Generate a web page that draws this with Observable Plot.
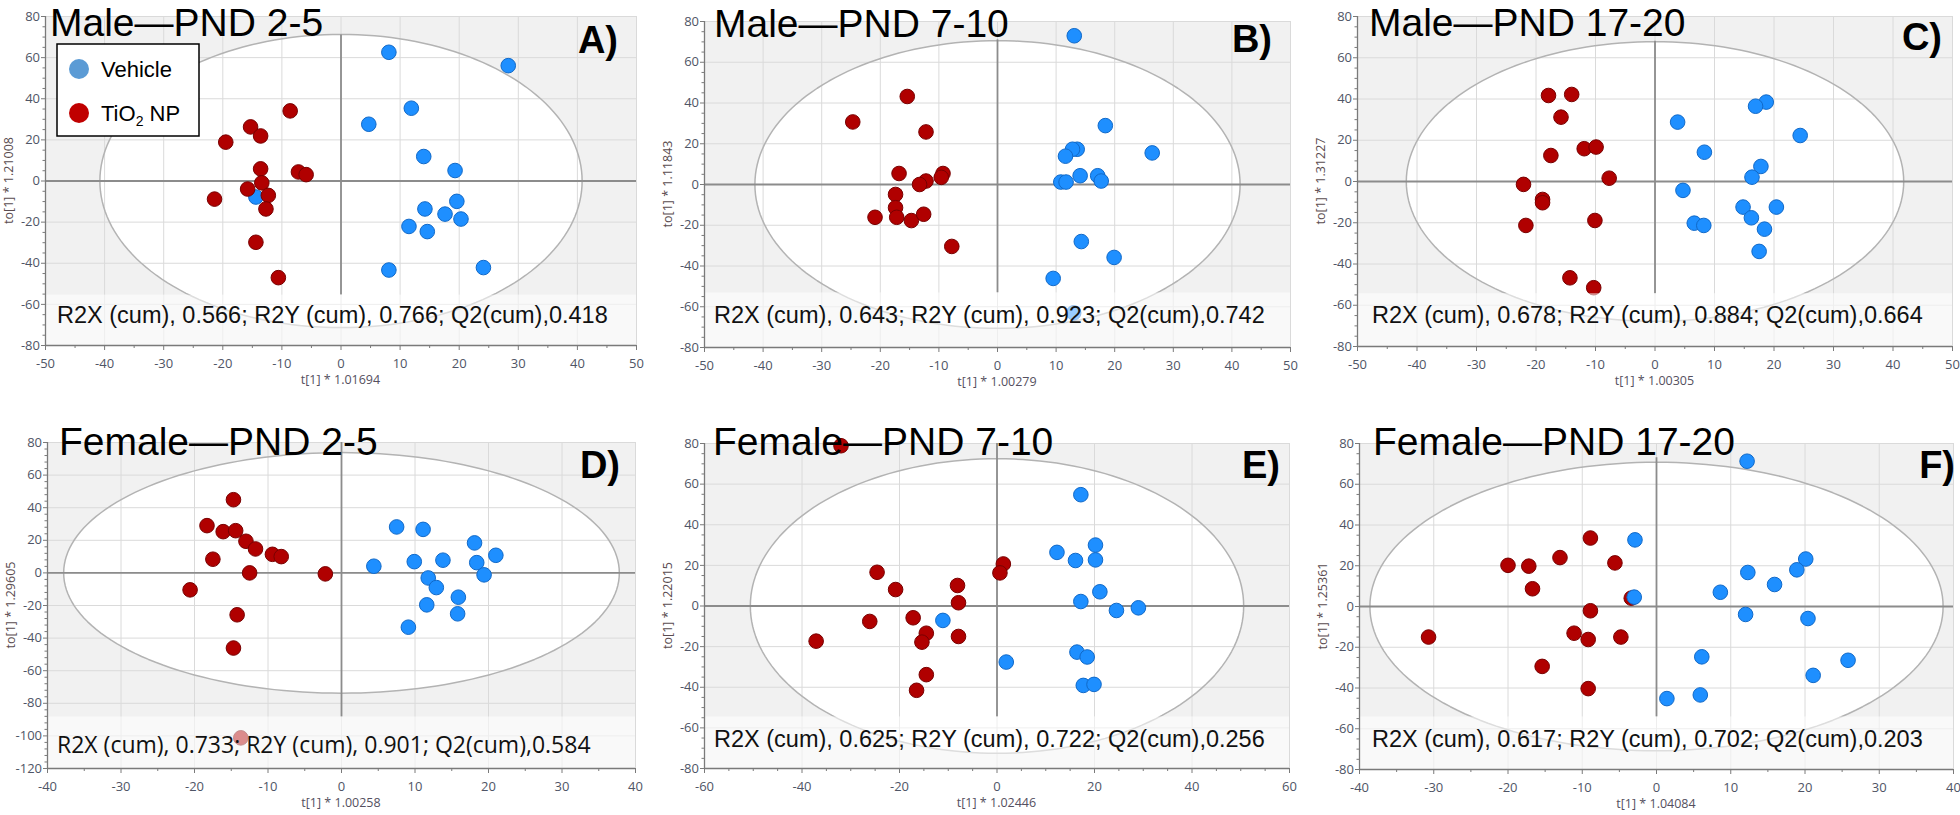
<!DOCTYPE html>
<html><head><meta charset="utf-8">
<script src="https://cdn.jsdelivr.net/npm/d3@7"></script>
<script src="https://cdn.jsdelivr.net/npm/@observablehq/plot@0.6"></script>
<style>
body{margin:0;background:#fff;}
#root{position:relative;width:1960px;height:815px;overflow:hidden;background:#fff;}
</style></head><body><div id="root"></div>
<script>
// ---------------- DATA ----------------
const groups = ["Vehicle", "TiO2 NP"];
const panelLetters = ["A)", "B)", "C)", "D)", "E)", "F)"];
const panelTitles = ["Male—PND 2-5", "Male—PND 7-10", "Male—PND 17-20", "Female—PND 2-5", "Female—PND 7-10", "Female—PND 17-20"];
const xAxisTitles = ["t[1] * 1.01694", "t[1] * 1.00279", "t[1] * 1.00305", "t[1] * 1.00258", "t[1] * 1.02446", "t[1] * 1.04084"];
const yAxisTitles = ["to[1] * 1.21008", "to[1] * 1.11843", "to[1] * 1.31227", "to[1] * 1.29605", "to[1] * 1.22015", "to[1] * 1.25361"];
const r2x = ["0.566", "0.643", "0.678", "0.733", "0.625", "0.617"];
const r2y = ["0.766", "0.923", "0.884", "0.901", "0.722", "0.702"];
const q2 = ["0.418", "0.742", "0.664", "0.584", "0.256", "0.203"];
const xDomains = [[-50, 50], [-50, 50], [-50, 50], [-40, 40], [-60, 60], [-40, 40]];
const yDomains = [[-80, 80], [-80, 80], [-80, 80], [-120, 80], [-80, 80], [-80, 80]];
const xMajorStep = [10, 10, 10, 10, 20, 10];
const yMajorStep = [20, 20, 20, 20, 20, 20];
const ellipseRadii = [[40.8, 71.3], [41.4, 70.6], [41.8, 67.8], [37.8, 73.8], [50.6, 72.5], [38.6, 70.8]];

const vehicleA = [[8.1,62.6],[28.3,56.1],[11.9,35.4],[4.7,27.6],[14.0,11.9],[19.3,5.1],[19.6,-9.9],[14.2,-13.6],[17.6,-16.1],[20.3,-18.5],[11.5,-22.1],[14.6,-24.6],[8.1,-43.3],[24.1,-42.1],[-14.4,-7.8]];
const tio2A = [[-8.6,34.1],[-15.3,26.3],[-13.6,21.9],[-19.5,18.9],[-13.6,5.9],[-7.2,4.4],[-5.9,3.1],[-13.4,-0.9],[-15.8,-3.9],[-12.3,-7.0],[-21.4,-8.8],[-12.7,-13.6],[-14.4,-29.8],[-10.6,-47.0]];
const vehicleB = [[13.1,73.0],[18.4,28.9],[26.4,15.5],[13.6,17.3],[12.8,17.3],[11.6,13.9],[14.1,4.3],[17.1,4.3],[17.7,1.7],[10.8,1.2],[11.7,1.2],[14.3,-28.0],[19.9,-35.8],[9.5,-46.1],[13.0,-63.0]];
const tio2B = [[-15.4,43.2],[-24.7,30.7],[-12.2,25.8],[-16.8,5.4],[-9.3,5.4],[-9.6,3.5],[-12.2,1.7],[-13.3,0.0],[-17.4,-4.9],[-17.4,-11.4],[-17.2,-16.1],[-20.9,-16.1],[-14.7,-17.7],[-12.6,-14.6],[-7.8,-30.4]];
const vehicleC = [[18.7,38.5],[16.9,36.5],[3.8,28.8],[24.4,22.3],[8.3,14.2],[17.8,7.3],[16.3,2.1],[4.7,-4.3],[20.4,-12.4],[14.8,-12.4],[16.2,-17.6],[6.6,-20.2],[8.2,-21.3],[18.4,-23.1],[17.5,-33.9]];
const tio2C = [[-17.9,41.7],[-14.0,42.2],[-15.8,31.2],[-11.9,15.9],[-9.9,16.7],[-17.5,12.6],[-7.7,1.6],[-22.1,-1.4],[-18.9,-8.7],[-18.9,-10.3],[-21.7,-21.3],[-10.1,-18.9],[-14.3,-46.7],[-10.3,-51.5]];
const vehicleD = [[7.5,28.2],[11.1,26.7],[18.1,18.4],[21.0,10.8],[9.9,6.9],[13.8,7.8],[18.4,6.3],[4.4,4.1],[19.4,-1.2],[11.8,-3.1],[12.9,-9.0],[15.9,-14.9],[11.6,-19.6],[15.8,-25.1],[9.1,-33.3]];
const tio2D = [[-14.7,44.9],[-18.3,29.0],[-16.1,25.3],[-14.4,25.9],[-13.0,19.4],[-11.7,14.7],[-9.4,11.4],[-8.2,10.0],[-17.5,8.4],[-12.5,0.0],[-2.2,-0.6],[-20.6,-10.4],[-14.2,-25.7],[-14.7,-46.1],[-13.7,-101.2]];
const vehicleE = [[17.2,54.8],[20.2,30.0],[12.3,26.4],[16.1,22.4],[20.2,22.7],[21.1,7.0],[17.2,2.2],[24.5,-2.2],[29.0,-0.9],[-11.1,-7.1],[1.9,-27.6],[16.4,-22.7],[18.5,-25.1],[17.7,-39.1],[19.9,-38.6]];
const tio2E = [[-32.0,78.9],[-24.6,16.6],[-20.8,8.1],[-8.1,10.1],[-7.9,1.6],[1.3,20.7],[0.6,16.3],[-26.1,-7.6],[-17.2,-5.8],[-14.5,-13.4],[-15.4,-17.8],[-7.9,-15.0],[-37.1,-17.3],[-14.5,-33.8],[-16.5,-41.5]];
const vehicleF = [[12.2,71.3],[-2.9,32.7],[20.1,23.3],[18.9,18.0],[12.3,16.7],[15.9,10.8],[8.6,7.0],[-3.0,4.6],[12.0,-3.9],[20.4,-5.9],[6.1,-24.7],[25.8,-26.4],[21.1,-33.8],[5.9,-43.4],[1.4,-45.2]];
const tio2F = [[-8.9,33.6],[-13.0,24.0],[-20.0,20.2],[-17.2,19.8],[-5.6,21.4],[-16.7,8.7],[-3.4,4.1],[-8.9,-2.1],[-11.1,-13.1],[-9.2,-16.2],[-4.8,-15.0],[-30.7,-15.0],[-15.4,-29.4],[-9.2,-40.3]];

const vehicleSets = [vehicleA, vehicleB, vehicleC, vehicleD, vehicleE, vehicleF];
const tio2Sets = [tio2A, tio2B, tio2C, tio2D, tio2E, tio2F];

// ---------------- LAYOUT / STYLE ----------------
const cells = [[0,0,660,400],[660,0,660,400],[1320,0,640,400],[0,400,660,415],[660,400,660,415],[1320,400,640,415]];
const frames = [[45,16,636,345],[704,21,1290,347],[1357,16,1952,346],[47,442,635,768],[704,443,1289,768],[1359,443,1953,769]]; // L,T,R,B
const bandTops = [-55.5, -53.2, -54.4, -88.4, -54.6, -54.2];
const zeroLineTops = [71, 71, 68, 80, 80, 73];
const yMinorStep = [5, 5, 5, 4, 5, 5];
const xMinorStep = [5, 5, 5, 5, 5, 5];
const redOnTop = [true, true, true, true, true, false];
const titlePos = [[50,35.5],[714,37],[1369,36],[59,455],[713,455],[1373,455]];
const letterPos = [[618,53],[1272,52],[1942,50],[620,478],[1280,478],[1955,478]];
const statsPos = [[57,323],[714,323],[1372,323],[57,753],[714,747],[1372,747]];
const statsFont = ["Liberation Sans","Liberation Sans","Liberation Sans","Open Sans","Liberation Sans","Liberation Sans"];
const colVehicle = "#1e8fff", colVehicleStroke = "#1169c8";
const colTio2 = "#b00000", colTio2Stroke = "#780000";

function ellipsePoints(rx, ry) {
  return d3.range(0, 360, 2).map(a => ({x: rx * Math.cos(a * Math.PI / 180), y: ry * Math.sin(a * Math.PI / 180)}));
}

const root = document.getElementById("root");

for (let i = 0; i < 6; i++) {
  const [cx, cy, cw, ch] = cells[i];
  const [L, T, R, B] = frames[i];
  const [x0, x1] = xDomains[i];
  const [y0, y1] = yDomains[i];
  const [rx, ry] = ellipseRadii[i];
  const ell = ellipsePoints(rx, ry);
  const xMajor = d3.range(x0, x1 + 0.001, xMajorStep[i]);
  const yMajor = d3.range(y0, y1 + 0.001, yMajorStep[i]);
  const xMinor = d3.range(x0, x1 + 0.001, xMinorStep[i]).filter(v => !xMajor.includes(v));
  const yMinor = d3.range(y0, y1 + 0.001, yMinorStep[i]).filter(v => !yMajor.includes(v));
  const bt = bandTops[i];
  const blue = Plot.dot(vehicleSets[i], {x: d => d[0], y: d => d[1], r: 7.3, fill: colVehicle, stroke: colVehicleStroke, strokeWidth: 1});
  const red = Plot.dot(tio2Sets[i], {x: d => d[0], y: d => d[1], r: 7.3, fill: colTio2, stroke: colTio2Stroke, strokeWidth: 1});
  const dots = redOnTop[i] ? [blue, red] : [red, blue];

  const plot = Plot.plot({
    width: cw, height: ch,
    marginLeft: L - cx, marginRight: cx + cw - R,
    marginTop: T - cy, marginBottom: cy + ch - B,
    x: {domain: [x0, x1]},
    y: {domain: [y0, y1]},
    style: {background: "transparent", fontFamily: "'Open Sans', sans-serif", overflow: "visible"},
    marks: [
      Plot.frame({fill: "#f1f1f1", stroke: "none"}),
      Plot.line(ell, {x: "x", y: "y", curve: "linear-closed", fill: "white", stroke: "none"}),
      Plot.gridX(xMajor, {stroke: "#dadada", strokeOpacity: 1}),
      Plot.gridY(yMajor, {stroke: "#dadada", strokeOpacity: 1}),
      Plot.line(ell, {x: "x", y: "y", curve: "linear-closed", fill: "none", stroke: "#b3b3b3", strokeWidth: 1.5}),
      Plot.ruleY([0], {stroke: "#8c8c8c", strokeWidth: 1.8}),
      Plot.ruleX([0], {y1: () => bt, y2: () => zeroLineTops[i], stroke: "#8c8c8c", strokeWidth: 1.8}),
      ...dots,
      Plot.rect([{a: x0, b: x1, c: y0, d: bt}], {x1: "a", x2: "b", y1: "c", y2: "d", fill: "white", fillOpacity: 0.55}),
      Plot.ruleX([x0], {stroke: "#7a7a7a", strokeWidth: 1.3}),
      Plot.ruleY([y0], {stroke: "#7a7a7a", strokeWidth: 1.3}),
      Plot.axisX(xMajor, {anchor: "bottom", tickSize: 5, tickPadding: 8, tickFormat: d => String(d), fontSize: 13, fill: "#4f5566", stroke: "#7a7a7a", label: null}),
      Plot.axisX(xMinor, {anchor: "bottom", tickSize: 3, tickFormat: () => "", stroke: "#7a7a7a", label: null}),
      Plot.axisY(yMajor, {anchor: "left", tickSize: 4, tickPadding: 1.5, tickFormat: d => String(d), fontSize: 13, fill: "#4f5566", stroke: "#7a7a7a", label: null}),
      Plot.axisY(yMinor, {anchor: "left", tickSize: 2.5, tickFormat: () => "", stroke: "#7a7a7a", label: null})
    ]
  });
  plot.style.position = "absolute";
  plot.style.left = cx + "px";
  plot.style.top = cy + "px";
  root.appendChild(plot);
}

// ---------------- TEXT OVERLAY (titles, letters, stats, axis titles, legend) ----------------
const ov = d3.select(root).append("svg")
  .attr("width", 1960).attr("height", 815)
  .style("position", "absolute").style("left", "0px").style("top", "0px")
  .style("pointer-events", "none");

for (let i = 0; i < 6; i++) {
  const [L, T, R, B] = frames[i];
  ov.append("text").attr("x", titlePos[i][0]).attr("y", titlePos[i][1])
    .attr("font-family", "'Liberation Sans', Arial, sans-serif").attr("font-size", 39).attr("fill", "#000")
    .text(panelTitles[i]);
  ov.append("text").attr("x", letterPos[i][0]).attr("y", letterPos[i][1]).attr("text-anchor", "end")
    .attr("font-family", "'Liberation Sans', Arial, sans-serif").attr("font-weight", "bold").attr("font-size", 38).attr("fill", "#000")
    .text(panelLetters[i]);
  ov.append("text").attr("x", statsPos[i][0]).attr("y", statsPos[i][1])
    .attr("font-family", `'${statsFont[i]}', Arial, sans-serif`).attr("font-size", statsFont[i] === "Open Sans" ? 23 : 23.5).attr("fill", "#111")
    .text(`R2X (cum), ${r2x[i]}; R2Y (cum), ${r2y[i]}; Q2(cum),${q2[i]}`);
  ov.append("text").attr("x", (L + R) / 2).attr("y", B + 39).attr("text-anchor", "middle")
    .attr("font-family", "'Open Sans', sans-serif").attr("font-size", 12.5).attr("fill", "#555060")
    .text(xAxisTitles[i]);
  ov.append("text").attr("transform", `translate(${L - 37},${(T + B) / 2}) rotate(-90)`)
    .attr("text-anchor", "middle").attr("dominant-baseline", "central")
    .attr("font-family", "'Open Sans', sans-serif").attr("font-size", 12.5).attr("fill", "#5a4c50")
    .text(yAxisTitles[i]);
}

// Legend (panel A)
const lg = ov.append("g");
lg.append("rect").attr("x", 57).attr("y", 44).attr("width", 142).attr("height", 92)
  .attr("fill", "white").attr("stroke", "#000").attr("stroke-width", 1.5);
lg.append("circle").attr("cx", 79).attr("cy", 69).attr("r", 10).attr("fill", "#5b9bd5");
lg.append("circle").attr("cx", 79).attr("cy", 113).attr("r", 10).attr("fill", "#c00000");
lg.append("text").attr("x", 101).attr("y", 77).attr("font-family", "'Liberation Sans', Arial, sans-serif")
  .attr("font-size", 22).text(groups[0]);
const t2 = lg.append("text").attr("x", 101).attr("y", 121).attr("font-family", "'Liberation Sans', Arial, sans-serif").attr("font-size", 22);
t2.append("tspan").text("TiO");
t2.append("tspan").attr("font-size", 14).attr("dy", 5).text("2");
t2.append("tspan").attr("dy", -5).text(" NP");
</script>
</body></html>
